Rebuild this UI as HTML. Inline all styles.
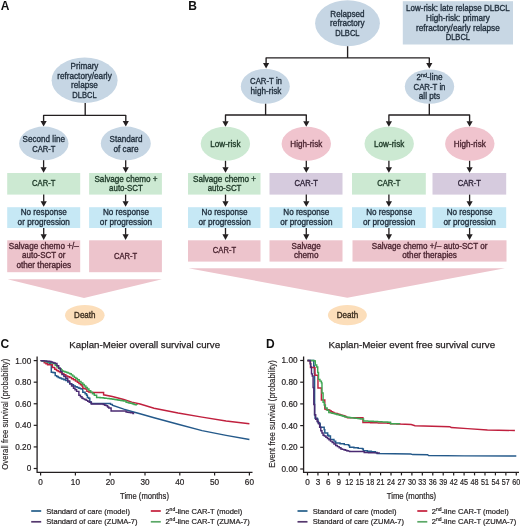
<!DOCTYPE html>
<html><head><meta charset="utf-8"><style>
html,body{margin:0;padding:0;background:#fff;}
svg{display:block;will-change:transform;font-family:"Liberation Sans", sans-serif;}
</style></head><body>
<svg width="520" height="526" viewBox="0 0 520 526">
<text x="0.8" y="9.8" font-size="12" font-weight="bold" fill="#111">A</text>
<ellipse cx="84.6" cy="80.3" rx="33" ry="22.7" fill="#c6d6e4"/>
<text x="84.5" y="69.0" font-size="8.2" fill="#1f2d3b" text-anchor="middle" stroke="#1f2d3b" stroke-width="0.32" textLength="27.81" lengthAdjust="spacingAndGlyphs">Primary</text>
<text x="84.5" y="78.6" font-size="8.2" fill="#1f2d3b" text-anchor="middle" stroke="#1f2d3b" stroke-width="0.32">refractory/early</text>
<text x="84.5" y="88.3" font-size="8.2" fill="#1f2d3b" text-anchor="middle" stroke="#1f2d3b" stroke-width="0.32">relapse</text>
<text x="84.5" y="98.0" font-size="8.2" fill="#1f2d3b" text-anchor="middle" stroke="#1f2d3b" stroke-width="0.32" textLength="24.32" lengthAdjust="spacingAndGlyphs">DLBCL</text>
<path d="M85.2,103 L85.2,115.3 M43.6,121.50 L43.6,115.3 L125.8,115.3 L125.8,121.50" stroke="#231f20" stroke-width="1.35" fill="none" stroke-linejoin="round"/>
<path d="M40.50,121.00 L46.70,121.00 L43.60,126.60 Z" fill="#231f20"/>
<path d="M122.70,121.00 L128.90,121.00 L125.80,126.60 Z" fill="#231f20"/>
<ellipse cx="43.8" cy="143.4" rx="24.7" ry="16.8" fill="#c6d6e4"/>
<ellipse cx="125.8" cy="143.4" rx="25" ry="16.8" fill="#c6d6e4"/>
<text x="43.8" y="142.4" font-size="8.2" fill="#1f2d3b" text-anchor="middle" stroke="#1f2d3b" stroke-width="0.32" textLength="42.42" lengthAdjust="spacingAndGlyphs">Second line</text>
<text x="43.8" y="152.0" font-size="8.2" fill="#1f2d3b" text-anchor="middle" stroke="#1f2d3b" stroke-width="0.32" textLength="23.27" lengthAdjust="spacingAndGlyphs">CAR-T</text>
<text x="126.0" y="142.4" font-size="8.2" fill="#1f2d3b" text-anchor="middle" stroke="#1f2d3b" stroke-width="0.32" textLength="32.84" lengthAdjust="spacingAndGlyphs">Standard</text>
<text x="126.0" y="152.0" font-size="8.2" fill="#1f2d3b" text-anchor="middle" stroke="#1f2d3b" stroke-width="0.32">of care</text>
<line x1="43.6" y1="160.2" x2="43.6" y2="167.70" stroke="#231f20" stroke-width="1.3"/>
<path d="M40.50,167.20 L46.70,167.20 L43.60,172.80 Z" fill="#231f20"/>
<line x1="125.7" y1="160.2" x2="125.7" y2="167.70" stroke="#231f20" stroke-width="1.3"/>
<path d="M122.60,167.20 L128.80,167.20 L125.70,172.80 Z" fill="#231f20"/>
<rect x="7.2" y="173.0" width="73.00" height="21.60" fill="#cce9d2"/>
<rect x="7.2" y="207.2" width="73.00" height="20.80" fill="#c6e8f5"/>
<rect x="7.2" y="240.3" width="73.00" height="31.90" fill="#edc4cc"/>
<rect x="89.1" y="173.0" width="72.80" height="21.60" fill="#cce9d2"/>
<rect x="89.1" y="207.2" width="72.80" height="20.80" fill="#c6e8f5"/>
<rect x="89.1" y="240.3" width="72.80" height="31.90" fill="#edc4cc"/>
<text x="43.75" y="186.3" font-size="8.2" fill="#1c3826" text-anchor="middle" stroke="#1c3826" stroke-width="0.32" textLength="23.27" lengthAdjust="spacingAndGlyphs">CAR-T</text>
<text x="126.0" y="181.6" font-size="8.2" fill="#1c3826" text-anchor="middle" stroke="#1c3826" stroke-width="0.32" textLength="63.15" lengthAdjust="spacingAndGlyphs">Salvage chemo +</text>
<text x="126.0" y="191.3" font-size="8.2" fill="#1c3826" text-anchor="middle" stroke="#1c3826" stroke-width="0.32" textLength="33.78" lengthAdjust="spacingAndGlyphs">auto-SCT</text>
<line x1="43.7" y1="194.6" x2="43.7" y2="201.70" stroke="#231f20" stroke-width="1.3"/>
<path d="M40.60,201.20 L46.80,201.20 L43.70,206.80 Z" fill="#231f20"/>
<text x="43.75" y="215.2" font-size="8.2" fill="#1f2d3b" text-anchor="middle" stroke="#1f2d3b" stroke-width="0.32" textLength="46.02" lengthAdjust="spacingAndGlyphs">No response</text>
<text x="43.75" y="225.0" font-size="8.2" fill="#1f2d3b" text-anchor="middle" stroke="#1f2d3b" stroke-width="0.32">or progression</text>
<line x1="43.7" y1="228.0" x2="43.7" y2="234.80" stroke="#231f20" stroke-width="1.3"/>
<path d="M40.60,234.30 L46.80,234.30 L43.70,239.90 Z" fill="#231f20"/>
<line x1="125.6" y1="194.6" x2="125.6" y2="201.70" stroke="#231f20" stroke-width="1.3"/>
<path d="M122.50,201.20 L128.70,201.20 L125.60,206.80 Z" fill="#231f20"/>
<text x="126.0" y="215.2" font-size="8.2" fill="#1f2d3b" text-anchor="middle" stroke="#1f2d3b" stroke-width="0.32" textLength="46.02" lengthAdjust="spacingAndGlyphs">No response</text>
<text x="126.0" y="225.0" font-size="8.2" fill="#1f2d3b" text-anchor="middle" stroke="#1f2d3b" stroke-width="0.32">or progression</text>
<line x1="125.6" y1="228.0" x2="125.6" y2="234.80" stroke="#231f20" stroke-width="1.3"/>
<path d="M122.50,234.30 L128.70,234.30 L125.60,239.90 Z" fill="#231f20"/>
<text x="43.75" y="248.5" font-size="8.2" fill="#4a2430" text-anchor="middle" stroke="#4a2430" stroke-width="0.32" textLength="69.99" lengthAdjust="spacingAndGlyphs">Salvage chemo +/–</text>
<text x="43.75" y="258.2" font-size="8.2" fill="#4a2430" text-anchor="middle" stroke="#4a2430" stroke-width="0.32" textLength="43.35" lengthAdjust="spacingAndGlyphs">auto-SCT or</text>
<text x="43.75" y="267.9" font-size="8.2" fill="#4a2430" text-anchor="middle" stroke="#4a2430" stroke-width="0.32">other therapies</text>
<text x="125.6" y="258.7" font-size="8.2" fill="#4a2430" text-anchor="middle" stroke="#4a2430" stroke-width="0.32" textLength="23.27" lengthAdjust="spacingAndGlyphs">CAR-T</text>
<path d="M7.5,279.3 L162,279.3 L84,298 Z" fill="#edc4cc"/>
<ellipse cx="84.8" cy="315.2" rx="19.8" ry="10.2" fill="#fcdeba"/>
<text x="84.8" y="318.1" font-size="8.2" fill="#3a2c1e" text-anchor="middle" stroke="#3a2c1e" stroke-width="0.32" textLength="21.41" lengthAdjust="spacingAndGlyphs">Death</text>
<text x="188.3" y="9.8" font-size="12" font-weight="bold" fill="#111">B</text>
<ellipse cx="347.5" cy="23.3" rx="32.4" ry="23" fill="#c6d6e4"/>
<text x="347.4" y="16.7" font-size="8.2" fill="#1f2d3b" text-anchor="middle" stroke="#1f2d3b" stroke-width="0.32" textLength="34.17" lengthAdjust="spacingAndGlyphs">Relapsed</text>
<text x="347.4" y="26.4" font-size="8.2" fill="#1f2d3b" text-anchor="middle" stroke="#1f2d3b" stroke-width="0.32">refractory</text>
<text x="347.4" y="36.1" font-size="8.2" fill="#1f2d3b" text-anchor="middle" stroke="#1f2d3b" stroke-width="0.32" textLength="24.32" lengthAdjust="spacingAndGlyphs">DLBCL</text>
<path d="M347.6,46.3 L347.6,57.9 M266.1,63.50 L266.1,57.9 L429.3,57.9 L429.3,63.50" stroke="#231f20" stroke-width="1.35" fill="none" stroke-linejoin="round"/>
<path d="M263.00,63.00 L269.20,63.00 L266.10,68.60 Z" fill="#231f20"/>
<path d="M426.20,63.00 L432.40,63.00 L429.30,68.60 Z" fill="#231f20"/>
<ellipse cx="265.3" cy="86.4" rx="24.5" ry="17.4" fill="#c6d6e4"/>
<text x="266" y="83.9" font-size="8.2" fill="#1f2d3b" text-anchor="middle" stroke="#1f2d3b" stroke-width="0.32" textLength="31.93" lengthAdjust="spacingAndGlyphs">CAR-T in</text>
<text x="266" y="93.6" font-size="8.2" fill="#1f2d3b" text-anchor="middle" stroke="#1f2d3b" stroke-width="0.32">high-risk</text>
<ellipse cx="429.5" cy="86.6" rx="24.7" ry="17.2" fill="#c6d6e4"/>
<text x="429.5" y="79.9" font-size="8.2" fill="#1f2d3b" stroke="#1f2d3b" stroke-width="0.32" text-anchor="middle">2<tspan font-size="5.5" dy="-3">nd</tspan><tspan dy="3">-line</tspan></text>
<text x="429.5" y="89.6" font-size="8.2" fill="#1f2d3b" text-anchor="middle" stroke="#1f2d3b" stroke-width="0.32" textLength="31.93" lengthAdjust="spacingAndGlyphs">CAR-T in</text>
<text x="429.5" y="99.2" font-size="8.2" fill="#1f2d3b" text-anchor="middle" stroke="#1f2d3b" stroke-width="0.32">all pts</text>
<path d="M265.6,103.8 L265.6,115.0 M225.5,121.70 L225.5,115.0 L306.3,115.0 L306.3,121.70" stroke="#231f20" stroke-width="1.35" fill="none" stroke-linejoin="round"/>
<path d="M222.40,121.20 L228.60,121.20 L225.50,126.80 Z" fill="#231f20"/>
<path d="M303.20,121.20 L309.40,121.20 L306.30,126.80 Z" fill="#231f20"/>
<path d="M429.3,103.8 L429.3,115.0 M388.9,121.70 L388.9,115.0 L469.6,115.0 L469.6,121.70" stroke="#231f20" stroke-width="1.35" fill="none" stroke-linejoin="round"/>
<path d="M385.80,121.20 L392.00,121.20 L388.90,126.80 Z" fill="#231f20"/>
<path d="M466.50,121.20 L472.70,121.20 L469.60,126.80 Z" fill="#231f20"/>
<ellipse cx="225.4" cy="143.8" rx="24.7" ry="17" fill="#cce9d2"/>
<text x="225.4" y="147.1" font-size="8.2" fill="#1c3826" text-anchor="middle" stroke="#1c3826" stroke-width="0.32" textLength="30.16" lengthAdjust="spacingAndGlyphs">Low-risk</text>
<ellipse cx="389.2" cy="143.8" rx="24.7" ry="17" fill="#cce9d2"/>
<text x="389.2" y="147.1" font-size="8.2" fill="#1c3826" text-anchor="middle" stroke="#1c3826" stroke-width="0.32" textLength="30.16" lengthAdjust="spacingAndGlyphs">Low-risk</text>
<ellipse cx="306.3" cy="143.8" rx="24.7" ry="17" fill="#f0c4ce"/>
<text x="306.3" y="147.1" font-size="8.2" fill="#4a2430" text-anchor="middle" stroke="#4a2430" stroke-width="0.32" textLength="31.87" lengthAdjust="spacingAndGlyphs">High-risk</text>
<ellipse cx="469.8" cy="143.8" rx="24.7" ry="17" fill="#f0c4ce"/>
<text x="469.8" y="147.1" font-size="8.2" fill="#4a2430" text-anchor="middle" stroke="#4a2430" stroke-width="0.32" textLength="31.87" lengthAdjust="spacingAndGlyphs">High-risk</text>
<line x1="225.5" y1="160.8" x2="225.5" y2="167.70" stroke="#231f20" stroke-width="1.3"/>
<path d="M222.40,167.20 L228.60,167.20 L225.50,172.80 Z" fill="#231f20"/>
<line x1="306.3" y1="160.8" x2="306.3" y2="167.70" stroke="#231f20" stroke-width="1.3"/>
<path d="M303.20,167.20 L309.40,167.20 L306.30,172.80 Z" fill="#231f20"/>
<line x1="388.9" y1="160.8" x2="388.9" y2="167.70" stroke="#231f20" stroke-width="1.3"/>
<path d="M385.80,167.20 L392.00,167.20 L388.90,172.80 Z" fill="#231f20"/>
<line x1="469.6" y1="160.8" x2="469.6" y2="167.70" stroke="#231f20" stroke-width="1.3"/>
<path d="M466.50,167.20 L472.70,167.20 L469.60,172.80 Z" fill="#231f20"/>
<rect x="188.0" y="173.0" width="72.50" height="21.60" fill="#cce9d2"/>
<rect x="188.0" y="207.2" width="72.50" height="20.80" fill="#c6e8f5"/>
<rect x="269.5" y="173.0" width="73.00" height="21.60" fill="#d6cbde"/>
<rect x="269.5" y="207.2" width="73.00" height="20.80" fill="#c6e8f5"/>
<rect x="352.0" y="173.0" width="73.80" height="21.60" fill="#cce9d2"/>
<rect x="352.0" y="207.2" width="73.80" height="20.80" fill="#c6e8f5"/>
<rect x="432.5" y="173.0" width="73.70" height="21.60" fill="#d6cbde"/>
<rect x="432.5" y="207.2" width="73.70" height="20.80" fill="#c6e8f5"/>
<text x="224.55" y="181.6" font-size="8.2" fill="#1c3826" text-anchor="middle" stroke="#1c3826" stroke-width="0.32" textLength="63.15" lengthAdjust="spacingAndGlyphs">Salvage chemo +</text>
<text x="224.55" y="191.3" font-size="8.2" fill="#1c3826" text-anchor="middle" stroke="#1c3826" stroke-width="0.32" textLength="33.78" lengthAdjust="spacingAndGlyphs">auto-SCT</text>
<text x="306.2" y="186.3" font-size="8.2" fill="#2e2338" text-anchor="middle" stroke="#2e2338" stroke-width="0.32" textLength="23.27" lengthAdjust="spacingAndGlyphs">CAR-T</text>
<text x="388.9" y="186.3" font-size="8.2" fill="#1c3826" text-anchor="middle" stroke="#1c3826" stroke-width="0.32" textLength="23.27" lengthAdjust="spacingAndGlyphs">CAR-T</text>
<text x="469.35" y="186.3" font-size="8.2" fill="#2e2338" text-anchor="middle" stroke="#2e2338" stroke-width="0.32" textLength="23.27" lengthAdjust="spacingAndGlyphs">CAR-T</text>
<line x1="225.5" y1="194.6" x2="225.5" y2="201.70" stroke="#231f20" stroke-width="1.3"/>
<path d="M222.40,201.20 L228.60,201.20 L225.50,206.80 Z" fill="#231f20"/>
<text x="224.55" y="215.2" font-size="8.2" fill="#1f2d3b" text-anchor="middle" stroke="#1f2d3b" stroke-width="0.32" textLength="46.02" lengthAdjust="spacingAndGlyphs">No response</text>
<text x="224.55" y="225.0" font-size="8.2" fill="#1f2d3b" text-anchor="middle" stroke="#1f2d3b" stroke-width="0.32">or progression</text>
<line x1="225.5" y1="228.0" x2="225.5" y2="234.80" stroke="#231f20" stroke-width="1.3"/>
<path d="M222.40,234.30 L228.60,234.30 L225.50,239.90 Z" fill="#231f20"/>
<line x1="306.3" y1="194.6" x2="306.3" y2="201.70" stroke="#231f20" stroke-width="1.3"/>
<path d="M303.20,201.20 L309.40,201.20 L306.30,206.80 Z" fill="#231f20"/>
<text x="306.3" y="215.2" font-size="8.2" fill="#1f2d3b" text-anchor="middle" stroke="#1f2d3b" stroke-width="0.32" textLength="46.02" lengthAdjust="spacingAndGlyphs">No response</text>
<text x="306.3" y="225.0" font-size="8.2" fill="#1f2d3b" text-anchor="middle" stroke="#1f2d3b" stroke-width="0.32">or progression</text>
<line x1="306.3" y1="228.0" x2="306.3" y2="234.80" stroke="#231f20" stroke-width="1.3"/>
<path d="M303.20,234.30 L309.40,234.30 L306.30,239.90 Z" fill="#231f20"/>
<line x1="388.9" y1="194.6" x2="388.9" y2="201.70" stroke="#231f20" stroke-width="1.3"/>
<path d="M385.80,201.20 L392.00,201.20 L388.90,206.80 Z" fill="#231f20"/>
<text x="389.2" y="215.2" font-size="8.2" fill="#1f2d3b" text-anchor="middle" stroke="#1f2d3b" stroke-width="0.32" textLength="46.02" lengthAdjust="spacingAndGlyphs">No response</text>
<text x="389.2" y="225.0" font-size="8.2" fill="#1f2d3b" text-anchor="middle" stroke="#1f2d3b" stroke-width="0.32">or progression</text>
<line x1="388.9" y1="228.0" x2="388.9" y2="234.80" stroke="#231f20" stroke-width="1.3"/>
<path d="M385.80,234.30 L392.00,234.30 L388.90,239.90 Z" fill="#231f20"/>
<line x1="469.6" y1="194.6" x2="469.6" y2="201.70" stroke="#231f20" stroke-width="1.3"/>
<path d="M466.50,201.20 L472.70,201.20 L469.60,206.80 Z" fill="#231f20"/>
<text x="469.65000000000003" y="215.2" font-size="8.2" fill="#1f2d3b" text-anchor="middle" stroke="#1f2d3b" stroke-width="0.32" textLength="46.02" lengthAdjust="spacingAndGlyphs">No response</text>
<text x="469.65000000000003" y="225.0" font-size="8.2" fill="#1f2d3b" text-anchor="middle" stroke="#1f2d3b" stroke-width="0.32">or progression</text>
<line x1="469.6" y1="228.0" x2="469.6" y2="234.80" stroke="#231f20" stroke-width="1.3"/>
<path d="M466.50,234.30 L472.70,234.30 L469.60,239.90 Z" fill="#231f20"/>
<rect x="188.0" y="240.3" width="72.50" height="21.30" fill="#edc4cc"/>
<rect x="269.5" y="240.3" width="73.00" height="21.30" fill="#edc4cc"/>
<rect x="352.5" y="240.3" width="154.00" height="21.30" fill="#edc4cc"/>
<text x="224.45" y="253.2" font-size="8.2" fill="#4a2430" text-anchor="middle" stroke="#4a2430" stroke-width="0.32" textLength="23.27" lengthAdjust="spacingAndGlyphs">CAR-T</text>
<text x="306.2" y="248.5" font-size="8.2" fill="#4a2430" text-anchor="middle" stroke="#4a2430" stroke-width="0.32" textLength="29.20" lengthAdjust="spacingAndGlyphs">Salvage</text>
<text x="306.2" y="258.2" font-size="8.2" fill="#4a2430" text-anchor="middle" stroke="#4a2430" stroke-width="0.32">chemo</text>
<text x="429.6" y="248.5" font-size="8.2" fill="#4a2430" text-anchor="middle" stroke="#4a2430" stroke-width="0.32" textLength="115.62" lengthAdjust="spacingAndGlyphs">Salvage chemo +/– auto-SCT or</text>
<text x="429.6" y="258.2" font-size="8.2" fill="#4a2430" text-anchor="middle" stroke="#4a2430" stroke-width="0.32">other therapies</text>
<path d="M188.5,268.3 L505,268.3 L347.3,297.7 Z" fill="#edc4cc"/>
<ellipse cx="347.4" cy="315.1" rx="19.5" ry="10.1" fill="#fcdeba"/>
<text x="347.4" y="318.1" font-size="8.2" fill="#3a2c1e" text-anchor="middle" stroke="#3a2c1e" stroke-width="0.32" textLength="21.41" lengthAdjust="spacingAndGlyphs">Death</text>
<rect x="402.8" y="1.2" width="110.20" height="43.30" fill="#c8d7e4"/>
<text x="457.9" y="11.0" font-size="8.2" fill="#1f2d3b" text-anchor="middle" stroke="#1f2d3b" stroke-width="0.32" textLength="103.71" lengthAdjust="spacingAndGlyphs">Low-risk: late relapse DLBCL</text>
<text x="457.9" y="20.8" font-size="8.2" fill="#1f2d3b" text-anchor="middle" stroke="#1f2d3b" stroke-width="0.32" textLength="63.76" lengthAdjust="spacingAndGlyphs">High-risk: primary</text>
<text x="457.9" y="30.6" font-size="8.2" fill="#1f2d3b" text-anchor="middle" stroke="#1f2d3b" stroke-width="0.32">refractory/early relapse</text>
<text x="457.9" y="40.4" font-size="8.2" fill="#1f2d3b" text-anchor="middle" stroke="#1f2d3b" stroke-width="0.32" textLength="24.32" lengthAdjust="spacingAndGlyphs">DLBCL</text>
<text x="0.6" y="347.7" font-size="12" font-weight="bold" fill="#111">C</text>
<text x="266.0" y="347.7" font-size="12" font-weight="bold" fill="#111">D</text>
<text x="69.3" y="348" font-size="9.7" fill="#231f20" stroke="#231f20" stroke-width="0.25">Kaplan-Meier overall survival curve</text>
<text x="328.6" y="348" font-size="9.7" fill="#231f20" stroke="#231f20" stroke-width="0.25" textLength="166.5" lengthAdjust="spacingAndGlyphs">Kaplan-Meier event free survival curve</text>
<path d="M37.1,356.5 L37.1,472.4 L252.5,472.4" stroke="#231f20" stroke-width="1.3" fill="none"/>
<line x1="33.7" y1="360.60" x2="37.1" y2="360.60" stroke="#231f20" stroke-width="1.2"/>
<text x="31.2" y="363.55" font-size="8.2" fill="#231f20" stroke="#231f20" stroke-width="0.2" text-anchor="end">1.00</text>
<line x1="33.7" y1="382.18" x2="37.1" y2="382.18" stroke="#231f20" stroke-width="1.2"/>
<text x="31.2" y="385.13" font-size="8.2" fill="#231f20" stroke="#231f20" stroke-width="0.2" text-anchor="end">0.80</text>
<line x1="33.7" y1="403.76" x2="37.1" y2="403.76" stroke="#231f20" stroke-width="1.2"/>
<text x="31.2" y="406.71" font-size="8.2" fill="#231f20" stroke="#231f20" stroke-width="0.2" text-anchor="end">0.60</text>
<line x1="33.7" y1="425.34" x2="37.1" y2="425.34" stroke="#231f20" stroke-width="1.2"/>
<text x="31.2" y="428.29" font-size="8.2" fill="#231f20" stroke="#231f20" stroke-width="0.2" text-anchor="end">0.40</text>
<line x1="33.7" y1="446.92" x2="37.1" y2="446.92" stroke="#231f20" stroke-width="1.2"/>
<text x="31.2" y="449.87" font-size="8.2" fill="#231f20" stroke="#231f20" stroke-width="0.2" text-anchor="end">0.20</text>
<line x1="33.7" y1="468.50" x2="37.1" y2="468.50" stroke="#231f20" stroke-width="1.2"/>
<text x="31.2" y="471.45" font-size="8.2" fill="#231f20" stroke="#231f20" stroke-width="0.2" text-anchor="end">0</text>
<line x1="40.60" y1="472.4" x2="40.60" y2="475.4" stroke="#231f20" stroke-width="1.2"/>
<text x="40.60" y="485.2" font-size="8.2" fill="#231f20" stroke="#231f20" stroke-width="0.2" text-anchor="middle">0</text>
<line x1="75.40" y1="472.4" x2="75.40" y2="475.4" stroke="#231f20" stroke-width="1.2"/>
<text x="75.40" y="485.2" font-size="8.2" fill="#231f20" stroke="#231f20" stroke-width="0.2" text-anchor="middle">10</text>
<line x1="110.20" y1="472.4" x2="110.20" y2="475.4" stroke="#231f20" stroke-width="1.2"/>
<text x="110.20" y="485.2" font-size="8.2" fill="#231f20" stroke="#231f20" stroke-width="0.2" text-anchor="middle">20</text>
<line x1="145.00" y1="472.4" x2="145.00" y2="475.4" stroke="#231f20" stroke-width="1.2"/>
<text x="145.00" y="485.2" font-size="8.2" fill="#231f20" stroke="#231f20" stroke-width="0.2" text-anchor="middle">30</text>
<line x1="179.80" y1="472.4" x2="179.80" y2="475.4" stroke="#231f20" stroke-width="1.2"/>
<text x="179.80" y="485.2" font-size="8.2" fill="#231f20" stroke="#231f20" stroke-width="0.2" text-anchor="middle">40</text>
<line x1="214.60" y1="472.4" x2="214.60" y2="475.4" stroke="#231f20" stroke-width="1.2"/>
<text x="214.60" y="485.2" font-size="8.2" fill="#231f20" stroke="#231f20" stroke-width="0.2" text-anchor="middle">50</text>
<line x1="249.40" y1="472.4" x2="249.40" y2="475.4" stroke="#231f20" stroke-width="1.2"/>
<text x="249.40" y="485.2" font-size="8.2" fill="#231f20" stroke="#231f20" stroke-width="0.2" text-anchor="middle">60</text>
<path d="M303.6,356.5 L303.6,472.4 L519,472.4" stroke="#231f20" stroke-width="1.3" fill="none"/>
<line x1="300.20000000000005" y1="360.50" x2="303.6" y2="360.50" stroke="#231f20" stroke-width="1.2"/>
<text x="297.5" y="363.45" font-size="8.2" fill="#231f20" stroke="#231f20" stroke-width="0.2" text-anchor="end">1.00</text>
<line x1="300.20000000000005" y1="382.20" x2="303.6" y2="382.20" stroke="#231f20" stroke-width="1.2"/>
<text x="297.5" y="385.15" font-size="8.2" fill="#231f20" stroke="#231f20" stroke-width="0.2" text-anchor="end">0.80</text>
<line x1="300.20000000000005" y1="403.90" x2="303.6" y2="403.90" stroke="#231f20" stroke-width="1.2"/>
<text x="297.5" y="406.85" font-size="8.2" fill="#231f20" stroke="#231f20" stroke-width="0.2" text-anchor="end">0.60</text>
<line x1="300.20000000000005" y1="425.60" x2="303.6" y2="425.60" stroke="#231f20" stroke-width="1.2"/>
<text x="297.5" y="428.55" font-size="8.2" fill="#231f20" stroke="#231f20" stroke-width="0.2" text-anchor="end">0.40</text>
<line x1="300.20000000000005" y1="447.30" x2="303.6" y2="447.30" stroke="#231f20" stroke-width="1.2"/>
<text x="297.5" y="450.25" font-size="8.2" fill="#231f20" stroke="#231f20" stroke-width="0.2" text-anchor="end">0.20</text>
<line x1="300.20000000000005" y1="469.00" x2="303.6" y2="469.00" stroke="#231f20" stroke-width="1.2"/>
<text x="297.5" y="471.95" font-size="8.2" fill="#231f20" stroke="#231f20" stroke-width="0.2" text-anchor="end">0.00</text>
<line x1="307.50" y1="472.4" x2="307.50" y2="475.4" stroke="#231f20" stroke-width="1.2"/>
<text x="307.50" y="485.2" font-size="8.2" fill="#231f20" stroke="#231f20" stroke-width="0.2" text-anchor="middle">0</text>
<line x1="317.94" y1="472.4" x2="317.94" y2="475.4" stroke="#231f20" stroke-width="1.2"/>
<text x="317.94" y="485.2" font-size="8.2" fill="#231f20" stroke="#231f20" stroke-width="0.2" text-anchor="middle">3</text>
<line x1="328.38" y1="472.4" x2="328.38" y2="475.4" stroke="#231f20" stroke-width="1.2"/>
<text x="328.38" y="485.2" font-size="8.2" fill="#231f20" stroke="#231f20" stroke-width="0.2" text-anchor="middle">6</text>
<line x1="338.82" y1="472.4" x2="338.82" y2="475.4" stroke="#231f20" stroke-width="1.2"/>
<text x="338.82" y="485.2" font-size="8.2" fill="#231f20" stroke="#231f20" stroke-width="0.2" text-anchor="middle">9</text>
<line x1="349.26" y1="472.4" x2="349.26" y2="475.4" stroke="#231f20" stroke-width="1.2"/>
<text x="349.26" y="485.2" font-size="8.2" fill="#231f20" stroke="#231f20" stroke-width="0.2" text-anchor="middle" textLength="8.0" lengthAdjust="spacingAndGlyphs">12</text>
<line x1="359.70" y1="472.4" x2="359.70" y2="475.4" stroke="#231f20" stroke-width="1.2"/>
<text x="359.70" y="485.2" font-size="8.2" fill="#231f20" stroke="#231f20" stroke-width="0.2" text-anchor="middle" textLength="8.0" lengthAdjust="spacingAndGlyphs">15</text>
<line x1="370.14" y1="472.4" x2="370.14" y2="475.4" stroke="#231f20" stroke-width="1.2"/>
<text x="370.14" y="485.2" font-size="8.2" fill="#231f20" stroke="#231f20" stroke-width="0.2" text-anchor="middle" textLength="8.0" lengthAdjust="spacingAndGlyphs">18</text>
<line x1="380.58" y1="472.4" x2="380.58" y2="475.4" stroke="#231f20" stroke-width="1.2"/>
<text x="380.58" y="485.2" font-size="8.2" fill="#231f20" stroke="#231f20" stroke-width="0.2" text-anchor="middle" textLength="8.0" lengthAdjust="spacingAndGlyphs">21</text>
<line x1="391.02" y1="472.4" x2="391.02" y2="475.4" stroke="#231f20" stroke-width="1.2"/>
<text x="391.02" y="485.2" font-size="8.2" fill="#231f20" stroke="#231f20" stroke-width="0.2" text-anchor="middle" textLength="8.0" lengthAdjust="spacingAndGlyphs">24</text>
<line x1="401.46" y1="472.4" x2="401.46" y2="475.4" stroke="#231f20" stroke-width="1.2"/>
<text x="401.46" y="485.2" font-size="8.2" fill="#231f20" stroke="#231f20" stroke-width="0.2" text-anchor="middle" textLength="8.0" lengthAdjust="spacingAndGlyphs">27</text>
<line x1="411.90" y1="472.4" x2="411.90" y2="475.4" stroke="#231f20" stroke-width="1.2"/>
<text x="411.90" y="485.2" font-size="8.2" fill="#231f20" stroke="#231f20" stroke-width="0.2" text-anchor="middle" textLength="8.0" lengthAdjust="spacingAndGlyphs">30</text>
<line x1="422.34" y1="472.4" x2="422.34" y2="475.4" stroke="#231f20" stroke-width="1.2"/>
<text x="422.34" y="485.2" font-size="8.2" fill="#231f20" stroke="#231f20" stroke-width="0.2" text-anchor="middle" textLength="8.0" lengthAdjust="spacingAndGlyphs">33</text>
<line x1="432.78" y1="472.4" x2="432.78" y2="475.4" stroke="#231f20" stroke-width="1.2"/>
<text x="432.78" y="485.2" font-size="8.2" fill="#231f20" stroke="#231f20" stroke-width="0.2" text-anchor="middle" textLength="8.0" lengthAdjust="spacingAndGlyphs">36</text>
<line x1="443.22" y1="472.4" x2="443.22" y2="475.4" stroke="#231f20" stroke-width="1.2"/>
<text x="443.22" y="485.2" font-size="8.2" fill="#231f20" stroke="#231f20" stroke-width="0.2" text-anchor="middle" textLength="8.0" lengthAdjust="spacingAndGlyphs">39</text>
<line x1="453.66" y1="472.4" x2="453.66" y2="475.4" stroke="#231f20" stroke-width="1.2"/>
<text x="453.66" y="485.2" font-size="8.2" fill="#231f20" stroke="#231f20" stroke-width="0.2" text-anchor="middle" textLength="8.0" lengthAdjust="spacingAndGlyphs">42</text>
<line x1="464.10" y1="472.4" x2="464.10" y2="475.4" stroke="#231f20" stroke-width="1.2"/>
<text x="464.10" y="485.2" font-size="8.2" fill="#231f20" stroke="#231f20" stroke-width="0.2" text-anchor="middle" textLength="8.0" lengthAdjust="spacingAndGlyphs">45</text>
<line x1="474.54" y1="472.4" x2="474.54" y2="475.4" stroke="#231f20" stroke-width="1.2"/>
<text x="474.54" y="485.2" font-size="8.2" fill="#231f20" stroke="#231f20" stroke-width="0.2" text-anchor="middle" textLength="8.0" lengthAdjust="spacingAndGlyphs">48</text>
<line x1="484.98" y1="472.4" x2="484.98" y2="475.4" stroke="#231f20" stroke-width="1.2"/>
<text x="484.98" y="485.2" font-size="8.2" fill="#231f20" stroke="#231f20" stroke-width="0.2" text-anchor="middle" textLength="8.0" lengthAdjust="spacingAndGlyphs">51</text>
<line x1="495.42" y1="472.4" x2="495.42" y2="475.4" stroke="#231f20" stroke-width="1.2"/>
<text x="495.42" y="485.2" font-size="8.2" fill="#231f20" stroke="#231f20" stroke-width="0.2" text-anchor="middle" textLength="8.0" lengthAdjust="spacingAndGlyphs">54</text>
<line x1="505.86" y1="472.4" x2="505.86" y2="475.4" stroke="#231f20" stroke-width="1.2"/>
<text x="505.86" y="485.2" font-size="8.2" fill="#231f20" stroke="#231f20" stroke-width="0.2" text-anchor="middle" textLength="8.0" lengthAdjust="spacingAndGlyphs">57</text>
<line x1="516.30" y1="472.4" x2="516.30" y2="475.4" stroke="#231f20" stroke-width="1.2"/>
<text x="516.30" y="485.2" font-size="8.2" fill="#231f20" stroke="#231f20" stroke-width="0.2" text-anchor="middle" textLength="8.0" lengthAdjust="spacingAndGlyphs">60</text>
<text x="144.5" y="498.8" font-size="8.6" fill="#231f20" stroke="#231f20" stroke-width="0.2" text-anchor="middle" textLength="49" lengthAdjust="spacingAndGlyphs">Time (months)</text>
<text x="411.5" y="498.8" font-size="8.6" fill="#231f20" stroke="#231f20" stroke-width="0.2" text-anchor="middle" textLength="49.3" lengthAdjust="spacingAndGlyphs">Time (months)</text>
<text transform="translate(7.8,414.2) rotate(-90)" font-size="8.6" fill="#231f20" stroke="#231f20" stroke-width="0.15" text-anchor="middle" textLength="111" lengthAdjust="spacingAndGlyphs">Overall free survival (probability)</text>
<text transform="translate(274.5,414) rotate(-90)" font-size="8.6" fill="#231f20" stroke="#231f20" stroke-width="0.15" text-anchor="middle" textLength="107.5" lengthAdjust="spacingAndGlyphs">Event free survival (probability)</text>
<line x1="31.2" y1="511.0" x2="41.2" y2="511.0" stroke="#245e8a" stroke-width="1.7"/>
<line x1="31.2" y1="521.8" x2="41.2" y2="521.8" stroke="#55386e" stroke-width="1.7"/>
<line x1="150.8" y1="511.0" x2="160.8" y2="511.0" stroke="#c41e3a" stroke-width="1.7"/>
<line x1="150.8" y1="521.8" x2="160.8" y2="521.8" stroke="#5aa866" stroke-width="1.7"/>
<text x="46.3" y="513.5" font-size="7.57" fill="#231f20" stroke="#231f20" stroke-width="0.2">Standard of care (model)</text>
<text x="46.3" y="523.6" font-size="7.57" fill="#231f20" stroke="#231f20" stroke-width="0.2">Standard of care (ZUMA-7)</text>
<text x="165.4" y="513.5" font-size="7.57" fill="#231f20" stroke="#231f20" stroke-width="0.2">2<tspan font-size="5" dy="-2.8">nd</tspan><tspan dy="2.8">-line CAR-T (model)</tspan></text>
<text x="165.4" y="523.6" font-size="7.57" fill="#231f20" stroke="#231f20" stroke-width="0.2">2<tspan font-size="5" dy="-2.8">nd</tspan><tspan dy="2.8">-line CAR-T (ZUMA-7)</tspan></text>
<line x1="297.5" y1="511.0" x2="307.5" y2="511.0" stroke="#245e8a" stroke-width="1.7"/>
<line x1="297.5" y1="521.8" x2="307.5" y2="521.8" stroke="#55386e" stroke-width="1.7"/>
<line x1="417.3" y1="511.0" x2="427.3" y2="511.0" stroke="#c41e3a" stroke-width="1.7"/>
<line x1="417.3" y1="521.8" x2="427.3" y2="521.8" stroke="#5aa866" stroke-width="1.7"/>
<text x="312.8" y="513.5" font-size="7.57" fill="#231f20" stroke="#231f20" stroke-width="0.2">Standard of care (model)</text>
<text x="312.8" y="523.6" font-size="7.57" fill="#231f20" stroke="#231f20" stroke-width="0.2">Standard of care (ZUMA-7)</text>
<text x="431.8" y="513.5" font-size="7.57" fill="#231f20" stroke="#231f20" stroke-width="0.2">2<tspan font-size="5" dy="-2.8">nd</tspan><tspan dy="2.8">-line CAR-T (model)</tspan></text>
<text x="431.8" y="523.6" font-size="7.57" fill="#231f20" stroke="#231f20" stroke-width="0.2">2<tspan font-size="5" dy="-2.8">nd</tspan><tspan dy="2.8">-line CAR-T (ZUMA-7)</tspan></text>
<g fill="none" stroke-width="1.45" stroke-linejoin="miter">
<path d="M40.60,360.60 H42.34 V361.00 H44.08 V361.41 H45.82 V361.81 H47.56 V362.22 H49.13 V363.30 H50.69 V364.38 H51.28 V365.24 L51.28,372.25 H52.73 V372.47 H54.17 V372.68 H55.22 V375.60 H56.71 V376.52 H58.21 V377.43 H59.67 V377.97 H61.13 V378.51 H62.00 V379.05 H63.90 V379.81 H65.80 V380.56 H67.74 V382.13 H69.69 V383.69 H71.59 V384.82 H73.49 V385.96 H75.28 V386.75 H77.08 V387.54 H78.88 V388.33 H80.45 V388.71 H82.01 V389.09 H82.81 V392.21 H85.11 V393.73 H86.54 V395.24 H87.41 V397.50 H88.69 V398.26 H89.81 V401.71 H90.99 V403.54 L108.81,403.54 H110.55 V404.35 H112.29 V405.16 L123.77,409.15 L131.78,411.53 L139.99,413.79 L154.05,417.79 L178.06,424.26 L202.07,430.63 L226.08,435.37 L249.40,439.47" stroke="#24598a"/>
<path d="M40.60,360.60 L43.73,360.60 H44.29 V362.87 H45.92 V363.78 H47.56 V364.70 L51.28,364.70 H52.43 V367.51 H54.69 V369.34 H56.45 V370.47 H58.21 V371.61 H60.11 V372.63 H62.00 V373.66 H63.90 V374.84 H65.80 V376.03 H67.74 V376.78 H69.69 V377.54 H71.59 V378.67 H73.49 V379.81 H75.43 V380.99 H77.38 V382.18 H78.93 V383.44 H80.47 V384.70 H82.01 V385.96 H82.81 V388.33 H85.11 V389.09 H86.88 V391.35 H88.64 V391.94 H90.40 V392.54 L103.00,392.54 H103.59 V394.80 L112.29,396.53 L123.77,399.44 L131.78,402.14 L140.13,403.98 L154.05,408.18 L178.06,413.04 L202.07,417.14 L226.08,421.02 L249.40,423.83" stroke="#c0203e"/>
<path d="M40.60,360.60 H42.34 V360.87 H44.08 V361.14 H45.82 V361.41 H47.56 V361.68 H49.04 V362.14 H50.52 V362.60 H52.00 V363.05 H53.48 V363.51 H55.22 V365.24 H56.96 V366.97 H58.35 V367.90 H59.74 V368.84 H61.13 V369.77 H62.00 V370.96 H63.54 V371.50 H65.08 V372.04 H66.62 V372.58 H68.15 V373.12 H69.69 V373.66 H71.23 V374.89 H72.77 V376.12 H74.31 V377.35 H75.85 V378.58 H77.38 V379.81 H79.19 V381.39 H81.00 V382.97 H82.81 V384.55 H84.33 V386.06 H85.86 V387.58 H87.38 V389.09 H88.90 V390.60 H90.70 V392.14 H92.50 V393.69 H94.30 V395.24 H96.63 V397.50 H98.37 V397.57 H100.11 V397.65 H101.85 V397.72 H103.31 V397.93 H104.77 V398.15 H106.23 V398.37 H107.69 V398.58 H109.42 V398.80 H111.14 V399.01 H112.86 V399.23 H114.58 V399.44 H116.12 V399.71 H117.65 V399.98 H119.18 V400.25 H120.71 V400.52 H122.24 V400.79 H123.77 V401.06 H126.10 V402.25 H127.52 V402.57 H128.94 V402.90 H130.36 V403.22 H131.78 V403.54 H132.99 V404.08 H134.21 V404.62 H135.60 V404.84 H137.00 V405.05" stroke="#3fa653"/>
<path d="M40.60,360.60 H42.08 V360.74 H43.57 V360.89 H45.05 V361.03 H46.54 V361.18 H48.02 V361.32 H49.51 V361.46 H50.94 V361.98 H52.36 V362.49 H53.79 V363.00 H55.22 V363.51 H56.96 V365.83 H58.70 V368.15 H60.35 V371.39 H62.00 V374.63 H63.90 V376.46 H65.80 V378.30 H67.74 V380.99 H69.69 V383.69 H71.59 V386.01 H73.49 V388.33 H75.03 V389.84 H76.58 V391.35 H78.88 V395.24 H80.45 V396.75 H82.01 V398.26 H83.30 V398.85 H84.59 V399.44 H86.13 V400.38 H87.67 V401.31 H89.22 V402.25 H91.41 V403.98 L101.85,403.98 H103.36 V404.59 H104.86 V405.20 H106.37 V405.81 H107.59 V406.94 H108.81 V408.08 H111.10 V410.99 L123.77,410.99 H126.10 V412.07 H127.65 V412.28 H129.19 V412.50 H130.73 V412.72 H132.99 V413.58 L134.21,413.58" stroke="#4a2a72"/>
<path d="M307.50,360.50 L313.07,360.50 H313.76 V365.93 H314.29 V373.52 H314.60 V376.02 L314.60,414.75 H315.09 V418.22 H317.38 V419.31 H317.97 V422.67 H319.68 V423.86 H320.27 V427.34 H324.17 V429.61 H324.80 V432.98 H327.68 V435.26 H328.73 V436.02 H330.47 V439.38 H333.95 V441.12 H335.69 V442.96 H339.98 V443.79 H344.27 V444.62 H348.56 V445.46 H349.61 V447.19 H353.90 V447.77 H358.19 V448.35 H362.48 V448.93 H363.35 V450.66 H367.36 V451.24 H371.36 V451.82 H375.36 V452.40 H377.10 V453.59 L410.86,454.03 L412.60,454.57 L427.56,454.68 L428.60,455.55 L464.10,455.87 L516.30,455.98" stroke="#24598a"/>
<path d="M307.50,360.50 H308.09 V360.72 H309.29 V360.77 H310.49 V360.83 L310.49,367.55 L314.98,367.55 L314.98,375.15 L317.38,375.15 H317.97 V379.38 L317.97,387.95 L320.79,387.95 H321.39 V399.99 L324.17,399.99 H324.80 V409.00 H326.13 V409.40 H327.46 V409.80 H328.80 V410.19 H329.98 V411.06 H331.31 V411.75 H332.65 V412.44 H333.98 V413.12 H335.57 V413.57 H337.15 V414.03 H338.73 V414.48 H340.32 V414.93 H341.90 V415.38 H343.48 V415.83 H344.81 V416.49 H346.13 V417.14 H347.45 V417.79 L362.24,417.79 H362.94 V422.45 H364.48 V422.50 H366.02 V422.54 H367.56 V422.59 H369.10 V422.63 H370.64 V422.68 H372.19 V422.72 H373.73 V422.77 H375.27 V422.81 H376.81 V422.86 H378.35 V422.90 H379.89 V422.94 H381.43 V422.99 H382.98 V423.03 H384.52 V423.08 H386.06 V423.12 H387.60 V423.17 H389.14 V423.21 H390.53 V423.76 H392.12 V423.79 H393.71 V423.83 H395.30 V423.86 H396.89 V423.90 H398.48 V423.94 H400.07 V423.97 L411.20,424.51 L415.03,425.71 L449.83,426.69 L451.22,427.55 L467.58,428.64 L487.42,430.05 L514.91,430.48" stroke="#c0203e"/>
<path d="M307.50,360.50 L312.20,360.50 H313.59 V360.83 H314.98 V361.15 H315.30 V364.95 H316.69 V367.01 H317.70 V372.44 H318.50 V379.38 H319.94 V381.12 H321.39 V382.85 H321.98 V393.05 H323.09 V402.16 H324.24 V405.09 H325.39 V408.02 H327.09 V410.25 H328.80 V412.47 H330.37 V412.86 H331.94 V413.25 H333.52 V413.64 H335.09 V414.03 H336.66 V414.42 H338.24 V414.88 H339.82 V415.33 H341.40 V415.78 H342.97 V416.23 H344.55 V416.68 H346.13 V417.14 H347.59 V417.31 H349.06 V417.49 H350.52 V417.67 H351.99 V417.85 H353.45 V418.02 H354.92 V418.20 H356.38 V418.38 H357.85 V418.56 H359.31 V418.73 H360.78 V418.91 H362.24 V419.09 H363.53 V420.93 H364.89 V421.00 H366.26 V421.06 H367.62 V421.13 H368.98 V421.19 H370.35 V421.26 H371.79 V421.34 H373.24 V421.41 H374.69 V421.49 H376.13 V421.56 H377.58 V421.64 H379.02 V421.71 H380.47 V421.79 H381.91 V421.86 H383.36 V421.94 H384.80 V422.01 H386.25 V422.09 H387.70 V422.16 H389.14 V422.24 H390.53 V423.76 L399.93,423.76" stroke="#3fa653"/>
<path d="M307.50,360.50 L309.48,360.50 H310.11 V363.75 H310.81 V367.01 H311.50 V373.85 H312.30 V376.02 H313.10 V387.41 H313.80 V404.55 H314.60 V414.75 H315.68 V419.31 H317.09 V421.59 H318.50 V423.86 H319.65 V427.28 H320.79 V430.70 H321.94 V432.98 H323.09 V435.26 H324.38 V436.02 H325.90 V437.29 H327.42 V438.57 H328.95 V439.84 H330.47 V441.12 H332.21 V442.56 H333.95 V444.01 H335.69 V445.46 H337.43 V446.61 H339.17 V447.77 H340.91 V448.93 H342.36 V449.36 H343.81 V449.80 H345.26 V450.23 H346.71 V450.66 H348.16 V451.10 H349.61 V451.53 L363.18,451.53 H364.22 V452.51 H365.65 V452.56 H367.09 V452.60 H368.52 V452.65 H369.95 V452.70 H371.38 V452.75 H372.81 V452.80 H374.24 V452.85 H375.67 V452.89 H377.10 V452.94 H379.19 V453.27" stroke="#4a2a72"/>
</g>
</svg></body></html>
